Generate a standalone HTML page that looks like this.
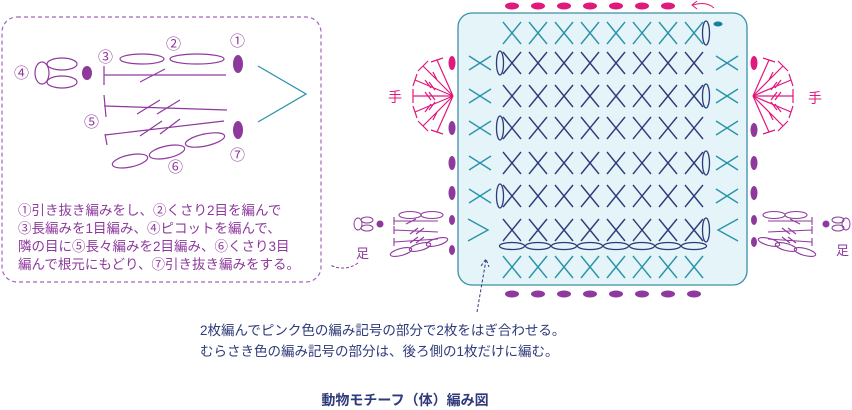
<!DOCTYPE html>
<html><head><meta charset="utf-8"><style>
html,body{margin:0;padding:0;background:#fff;}
svg{display:block;}
text{font-family:"Liberation Sans","Noto Sans CJK JP",sans-serif;}
</style></head><body>
<svg width="852" height="410" viewBox="0 0 852 410" xmlns="http://www.w3.org/2000/svg">
<defs>
<g id="xt"><path d="M-9,-11 L9,11 M9,-11 L-9,11" stroke="#2a93a8" stroke-width="1.4" fill="none"/></g>
<g id="xd"><path d="M-9,-11 L9,11 M9,-11 L-9,11" stroke="#2f3a7a" stroke-width="1.4" fill="none"/></g>
<g id="xs"><path d="M-11,-7 L11,7 M11,-7 L-11,7" stroke="#2a93a8" stroke-width="1.4" fill="none"/></g>
<g id="ov"><ellipse cx="0" cy="0" rx="3.5" ry="12" fill="none" stroke="#2f3a7a" stroke-width="1.3"/></g>
<g id="ch"><ellipse cx="0" cy="0" rx="12.5" ry="3.5" fill="none" stroke="#2f3a7a" stroke-width="1.3"/></g>
<ellipse id="dp" cx="0" cy="0" rx="3.5" ry="7" fill="#e0197d"/>
<ellipse id="dv" cx="0" cy="0" rx="3.5" ry="7" fill="#8e3a9d"/>
<ellipse id="dh" cx="0" cy="0" rx="7" ry="3.5" fill="#8e3a9d"/>
<ellipse id="dhp" cx="0" cy="0" rx="7" ry="3.5" fill="#e0197d"/>
<g id="drow">
<use href="#xd" x="512" y="0"/><use href="#xd" x="538" y="0"/><use href="#xd" x="564" y="0"/><use href="#xd" x="590" y="0"/>
<use href="#xd" x="616" y="0"/><use href="#xd" x="642" y="0"/><use href="#xd" x="668" y="0"/><use href="#xd" x="694" y="0"/>
</g>
<g id="hand" stroke="#e0197d" stroke-width="1.2" fill="none">
<path d="M0,0 L-40,0 M-40,-7 L-40,7 M-28,-4 L-22,4 M-24,-4 L-18,4"/>
<path d="M0,0 L-38,-16 M-40,-10 L-36,-22 M-28,-16 L-22,-8 M-24,-14 L-18,-6"/>
<path d="M0,0 L-38,16 M-40,10 L-36,22 M-28,16 L-22,8 M-24,14 L-18,6"/>
<path d="M0,0 L-30,-30 M-35,-25 L-25,-35 M-20,-24 L-16,-16"/>
<path d="M0,0 L-30,30 M-35,25 L-25,35 M-20,24 L-16,16"/>
<path d="M0,0 L-16,-36 M-22,-34 L-10,-38"/>
<path d="M0,0 L-16,36 M-22,34 L-10,38"/>
</g>
<g id="foot" stroke="#8e3a9d" stroke-width="1.1" fill="none">
<ellipse cx="-36" cy="-30" rx="11" ry="3.5"/><ellipse cx="-14" cy="-30" rx="11" ry="3.5"/>
<path d="M-8,-24 L-52,-24 M-52,-28 L-52,-20 M-30,-26 L-40,-21"/>
<path d="M-8,-13 L-52,-15 M-52,-19 L-52,-11 M-28,-17 L-36,-11 M-22,-17 L-30,-11"/>
<path d="M-8,-6 L-52,-3 M-52,-7 L-52,1 M-28,-8 L-36,-2 M-22,-8 L-30,-2"/>
<ellipse cx="-45" cy="7" rx="11" ry="3.5" transform="rotate(-15 -45 7)"/>
<ellipse cx="-26" cy="2" rx="11" ry="3.5" transform="rotate(-15 -26 2)"/>
<ellipse cx="-9" cy="-3" rx="11" ry="3.5" transform="rotate(-15 -9 -3)"/>
</g>
</defs>

<!-- left instruction box -->
<rect x="2" y="17" width="319" height="265" rx="15" fill="none" stroke="#a366b8" stroke-width="1.2" stroke-dasharray="4,3"/>
<g stroke="#8e3a9d" stroke-width="1.2" fill="none">
<ellipse cx="142" cy="59" rx="22" ry="5"/><ellipse cx="197" cy="59" rx="27" ry="5"/>
<path d="M104,66 L104,85 M104,75 L226,75 M140,82 L165,69"/>
<ellipse cx="42" cy="73" rx="7" ry="11"/><ellipse cx="62" cy="64" rx="15" ry="6"/><ellipse cx="62" cy="82" rx="15" ry="6"/>
<path d="M104,95 L106,117 M104,106 L227,110 M137,114 L160,100 M157,114 L180,100"/>
<path d="M105,134 L107,145 M105,135 L224,121 M140,136 L162,121 M160,134 L180,119"/>
<ellipse cx="130" cy="161" rx="18" ry="6" transform="rotate(-12 130 161)"/>
<ellipse cx="167" cy="152" rx="18" ry="6" transform="rotate(-12 167 152)"/>
<ellipse cx="205" cy="140" rx="20" ry="6" transform="rotate(-12 205 140)"/>
</g>
<ellipse cx="87" cy="73" rx="5" ry="7" fill="#8e3a9d"/>
<ellipse cx="238" cy="64" rx="5" ry="9" fill="#8e3a9d"/>
<ellipse cx="238" cy="130" rx="5" ry="9" fill="#8e3a9d"/>
<path d="M258,66 L306,94 L258,122" stroke="#2a93a8" stroke-width="1.3" fill="none"/>
<g fill="#8e3a9d" font-size="15">
<text x="14" y="78">④</text><text x="98" y="62">③</text><text x="166" y="49">②</text><text x="230" y="46">①</text>
<text x="84" y="127">⑤</text><text x="168" y="172">⑥</text><text x="230" y="160">⑦</text>
</g>
<g fill="#8e3a9d" font-size="13.5">
<text x="18" y="215">①引き抜き編みをし、②くさり2目を編んで</text>
<text x="18" y="233">③長編みを1目編み、④ピコットを編んで、</text>
<text x="18" y="251">隣の目に⑤長々編みを2目編み、⑥くさり3目</text>
<text x="18" y="269">編んで根元にもどり、⑦引き抜き編みをする。</text>
</g>
<path d="M358,263 Q345,272 330,265" stroke="#8e3a9d" stroke-width="1" fill="none" stroke-dasharray="3,2"/>

<!-- main square -->
<rect x="458" y="13" width="289" height="272" rx="14" fill="#e4f4f8" stroke="#3a8fa8" stroke-width="1.3"/>
<use href="#xt" x="512" y="33"/><use href="#xt" x="538" y="33"/><use href="#xt" x="564" y="33"/><use href="#xt" x="590" y="33"/>
<use href="#xt" x="616" y="33"/><use href="#xt" x="642" y="33"/><use href="#xt" x="668" y="33"/><use href="#xt" x="694" y="33"/>
<use href="#ov" x="706" y="33"/>
<ellipse cx="718" cy="24" rx="4.5" ry="2.5" fill="#1a7f9a"/>
<use href="#drow" y="63"/><use href="#drow" y="96"/><use href="#drow" y="128"/><use href="#drow" y="163"/><use href="#drow" y="196"/><use href="#drow" y="230"/>
<use href="#ov" x="500" y="63"/><use href="#ov" x="706" y="96"/><use href="#ov" x="500" y="128"/>
<use href="#ov" x="706" y="163"/><use href="#ov" x="500" y="196"/><use href="#ov" x="706" y="230"/>
<use href="#xs" x="480" y="63"/><use href="#xs" x="480" y="96"/><use href="#xs" x="480" y="128"/><use href="#xs" x="480" y="163"/><use href="#xs" x="480" y="196"/>
<use href="#xs" x="727" y="63"/><use href="#xs" x="727" y="96"/><use href="#xs" x="727" y="128"/><use href="#xs" x="727" y="163"/><use href="#xs" x="727" y="196"/>
<path d="M468,219 L488,230 L468,241" stroke="#2a93a8" stroke-width="1.4" fill="none"/>
<path d="M738,219 L718,230 L738,241" stroke="#2a93a8" stroke-width="1.4" fill="none"/>
<use href="#ch" x="512" y="246"/><use href="#ch" x="538" y="246"/><use href="#ch" x="564" y="246"/><use href="#ch" x="590" y="246"/>
<use href="#ch" x="616" y="246"/><use href="#ch" x="642" y="246"/><use href="#ch" x="668" y="246"/><use href="#ch" x="694" y="246"/>
<use href="#xt" x="512" y="267"/><use href="#xt" x="538" y="267"/><use href="#xt" x="564" y="267"/><use href="#xt" x="590" y="267"/>
<use href="#xt" x="616" y="267"/><use href="#xt" x="642" y="267"/><use href="#xt" x="668" y="267"/><use href="#xt" x="694" y="267"/>
<use href="#dhp" x="512" y="6"/><use href="#dhp" x="538" y="6"/><use href="#dhp" x="564" y="6"/><use href="#dhp" x="590" y="6"/>
<use href="#dhp" x="616" y="6"/><use href="#dhp" x="642" y="6"/><use href="#dhp" x="668" y="6"/>
<path d="M714,8 Q706,1 693,5 M697,1 L692,5 L697,9" stroke="#e0197d" stroke-width="1" fill="none"/>
<use href="#dh" x="512" y="294"/><use href="#dh" x="538" y="294"/><use href="#dh" x="564" y="294"/><use href="#dh" x="590" y="294"/>
<use href="#dh" x="616" y="294"/><use href="#dh" x="642" y="294"/><use href="#dh" x="668" y="294"/><use href="#dh" x="694" y="294"/>
<use href="#dp" x="452" y="63"/><use href="#dv" x="452" y="128"/><use href="#dv" x="452" y="163"/><use href="#dv" x="452" y="193"/>
<ellipse cx="452" cy="220" rx="3" ry="5" fill="#8e3a9d"/><ellipse cx="452" cy="250" rx="3" ry="5" fill="#8e3a9d"/>
<use href="#dp" x="754" y="63"/><use href="#dv" x="754" y="130"/><use href="#dv" x="754" y="163"/><use href="#dv" x="754" y="193"/>
<ellipse cx="754" cy="220" rx="3" ry="5" fill="#8e3a9d"/><ellipse cx="754" cy="242" rx="3" ry="5" fill="#8e3a9d"/>
<use href="#hand" transform="translate(453,96)"/>
<use href="#hand" transform="translate(753,96) scale(-1,1)"/>
<text x="388" y="102" font-size="14" fill="#e0197d">手</text>
<text x="808" y="103" font-size="14" fill="#e0197d">手</text>
<g transform="translate(446,245)"><use href="#foot"/></g>
<circle cx="380" cy="224" r="3.5" fill="#8e3a9d"/>
<g stroke="#8e3a9d" stroke-width="1" fill="none"><ellipse cx="358" cy="224" rx="4" ry="6"/><ellipse cx="367" cy="220" rx="6" ry="3"/><ellipse cx="367" cy="228" rx="6" ry="3"/></g>
<text x="356" y="258" font-size="13" fill="#8e3a9d">足</text>
<g transform="translate(760,245) scale(-1,1)"><use href="#foot"/></g>
<circle cx="826" cy="224" r="3.5" fill="#8e3a9d"/>
<g stroke="#8e3a9d" stroke-width="1" fill="none"><ellipse cx="846" cy="224" rx="4" ry="6"/><ellipse cx="838" cy="220" rx="6" ry="3"/><ellipse cx="838" cy="228" rx="6" ry="3"/></g>
<text x="836" y="255" font-size="13" fill="#8e3a9d">足</text>
<path d="M477,312 L486,260 M481,266 L486,259 L489,267" stroke="#2f3a7a" stroke-width="1" fill="none" stroke-dasharray="3,2"/>
<g fill="#2f3a7a" font-size="13.5">
<text x="200" y="335">2枚編んでピンク色の編み記号の部分で2枚をはぎ合わせる。</text>
<text x="200" y="356">むらさき色の編み記号の部分は、後ろ側の1枚だけに編む。</text>
</g>
<text x="405" y="405" font-size="14" font-weight="bold" fill="#2f3a7a" text-anchor="middle">動物モチーフ（体）編み図</text>
</svg>
</body></html>
